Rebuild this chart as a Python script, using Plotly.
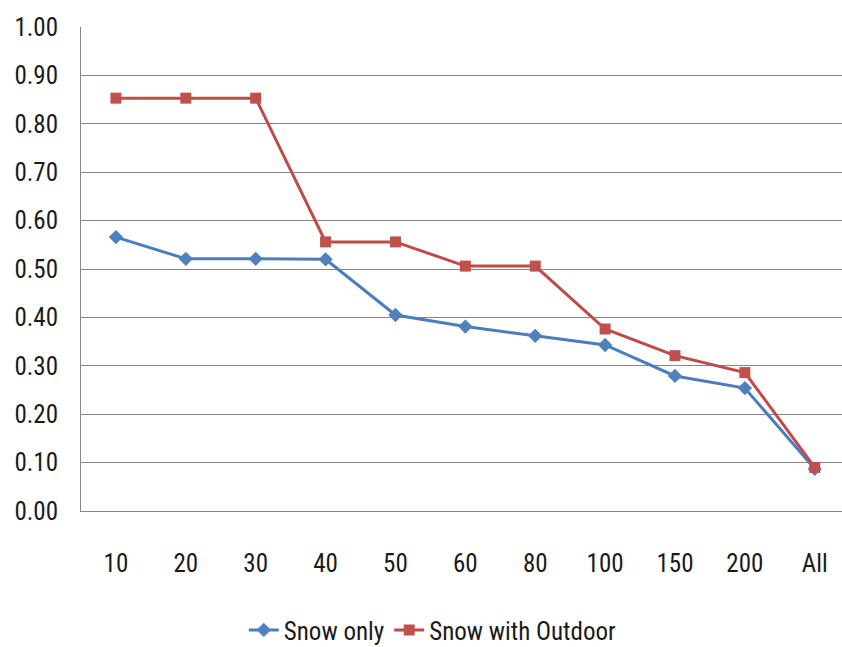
import plotly.graph_objects as go

categories = ["10", "20", "30", "40", "50", "60", "80", "100", "150", "200", "All"]
snow_only = [0.566, 0.521, 0.521, 0.520, 0.405, 0.381, 0.362, 0.343, 0.279, 0.254, 0.087]
snow_outdoor = [0.853, 0.853, 0.853, 0.556, 0.556, 0.506, 0.506, 0.376, 0.321, 0.286, 0.090]
y_ticks = [i / 10 for i in range(11)]

FONT = "Roboto Condensed, Carlito, sans-serif"

fig = go.Figure()
fig.add_trace(go.Scatter(
    x=list(range(len(categories))), y=snow_only, name="Snow only",
    mode="lines+markers",
    line=dict(color="#4A7EBB", width=3),
    marker=dict(symbol="diamond", size=11, color="#4F81BD", line=dict(width=0)),
))
fig.add_trace(go.Scatter(
    x=list(range(len(categories))), y=snow_outdoor, name="Snow with Outdoor",
    mode="lines+markers",
    line=dict(color="#BE4B48", width=3),
    marker=dict(symbol="square", size=11, color="#C0504D", line=dict(width=0)),
))

fig.update_layout(
    width=842, height=647,
    margin=dict(l=81, r=0, t=27, b=136),
    paper_bgcolor="white", plot_bgcolor="white",
    font=dict(family=FONT, size=25, color="#1a1a1a"),
    showlegend=True,
    legend=dict(orientation="h", xref="container", yref="container",
                x=0.514, y=0.026, xanchor="center", yanchor="middle",
                font=dict(size=25), itemwidth=30, tracegroupgap=0),
    xaxis=dict(
        tickmode="array", tickvals=list(range(len(categories))), ticktext=categories,
        range=[-0.5, 10.39], showgrid=False, zeroline=False,
        showline=True, linecolor="#868686", linewidth=1,
        ticks="", ticklabelstandoff=30,
    ),
    yaxis=dict(
        range=[0, 1.0], tickmode="array", tickvals=y_ticks,
        ticktext=[f"{v:.2f}" for v in y_ticks],
        showgrid=True, gridcolor="#868686", gridwidth=1, zeroline=False,
        showline=True, linecolor="#868686", linewidth=1,
        ticks="", ticklabelstandoff=17,
    ),
)

fig.write_html("out.html")
